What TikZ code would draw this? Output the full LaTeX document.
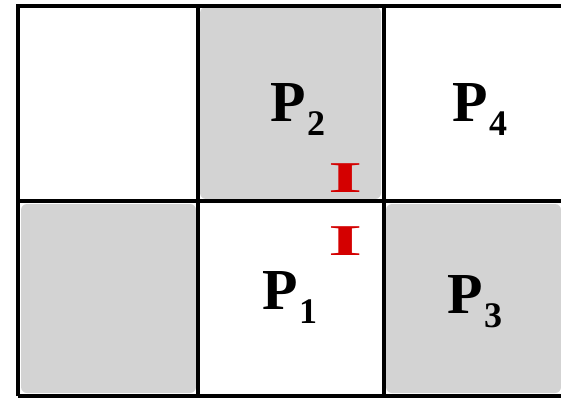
\documentclass[tikz,border=0pt]{standalone}
\usepackage{fontspec}
\setmainfont{Liberation Serif}
\definecolor{cellgray}{HTML}{D3D3D3}
\definecolor{markred}{HTML}{D40000}
\newcommand{\plab}[1]{P\kern1pt\raisebox{-14pt}{\fontsize{36}{36}\selectfont #1}}
\tikzset{
  gridline/.style={line width=4pt, black},
  shade/.style={fill=cellgray, rounded corners=6pt},
  plabel/.style={font=\fontsize{58}{58}\selectfont\bfseries, inner sep=0pt},
  imark/.style={text=markred, font=\fontsize{44}{44}\selectfont\bfseries, inner sep=0pt}
}
\newcommand{\imk}{\scalebox{2.0}[1.0]{I}}
\begin{document}
\begin{tikzpicture}[x=1pt, y=-1pt]
  \useasboundingbox (0,0) rectangle (561,398);
  \fill[white] (0,0) rectangle (561,398);
  % shaded cells
  \fill[shade] (200,7) rectangle (381,199);
  \fill[shade] (21,204) rectangle (196,393);
  \fill[shade] (386,204) rectangle (561,393);
  % grid
  \draw[gridline] (18,396) -- (18,6) -- (563,6);
  \draw[gridline] (18,201) -- (563,201);
  \draw[gridline] (18,396) -- (563,396);
  \draw[gridline] (198,6) -- (198,396);
  \draw[gridline] (384,6) -- (384,396);
  % labels
  \node[plabel] (p2) at (298,110) {\plab{2}};
  \node[plabel] (p4) at (480,110) {\plab{4}};
  \node[plabel] (p1) at (290,298) {\plab{1}};
  \node[plabel] (p3) at (475,302) {\plab{3}};
  \node[imark] (i2) at (346,178) {\imk};
  \node[imark] (i1) at (346,241) {\imk};
\end{tikzpicture}
\end{document}
